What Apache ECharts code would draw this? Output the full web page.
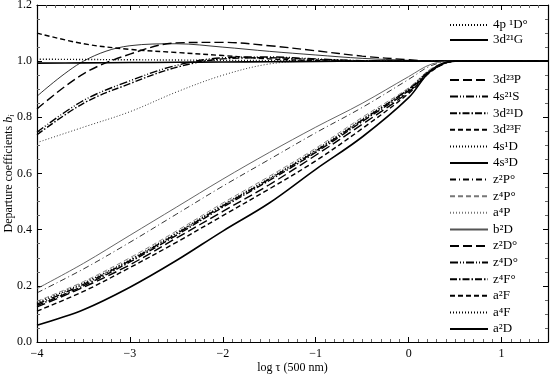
<!DOCTYPE html>
<html>
<head>
<meta charset="utf-8">
<script src="https://cdn.jsdelivr.net/npm/echarts@6/dist/echarts.min.js"></script>
<style>
  html, body { margin: 0; padding: 0; background: #fff; }
  #chart { width: 550px; height: 378px; }
</style>
</head>
<body>
<div id="chart"></div>
<script>
// log tau (500 nm) sample points
const logTau = [-4, -3.5, -3, -2.5, -2, -1.5, -1, -0.5, 0, 0.25, 0.5, 1, 1.5];

// upper levels
const p4_1Do = [0.71, 0.765, 0.82, 0.89, 0.95, 0.99, 1.0, 1.0, 1.0, 1.0, 1.0, 1.0, 1.0];
const d3_1G = [0.875, 1.0, 1.055, 1.062, 1.05, 1.035, 1.022, 1.01, 1.003, 1.0, 1.0, 1.0, 1.0];
const d3_3P = [0.83, 0.955, 1.025, 1.065, 1.067, 1.055, 1.037, 1.018, 1.005, 1.0, 1.0, 1.0, 1.0];
const s4_1S = [0.747, 0.86, 0.93, 0.985, 1.012, 1.015, 1.008, 1.002, 1.0, 1.0, 1.0, 1.0, 1.0];
const d3_1D = [0.738, 0.85, 0.92, 0.978, 1.008, 1.012, 1.006, 1.001, 1.0, 1.0, 1.0, 1.0, 1.0];
const d3_3F = [1.10, 1.062, 1.042, 1.031, 1.02, 1.008, 1.002, 1.0, 1.0, 1.0, 1.0, 1.0, 1.0];
const s4_1D = [1.007, 1.006, 1.005, 1.004, 1.003, 1.002, 1.001, 1.0, 1.0, 1.0, 1.0, 1.0, 1.0];
const s4_3D = [0.993, 0.994, 0.995, 0.996, 0.997, 0.998, 0.999, 1.0, 1.0, 1.0, 1.0, 1.0, 1.0];

// lower levels
const z2Po = [0.175, 0.26, 0.355, 0.455, 0.555, 0.65, 0.745, 0.835, 0.935, 0.985, 1.0, 1.0, 1.0];
const z4Po = [0.145, 0.215, 0.30, 0.395, 0.495, 0.59, 0.69, 0.80, 0.905, 0.975, 1.0, 1.0, 1.0];
const a4P = [0.14, 0.21, 0.295, 0.39, 0.49, 0.585, 0.685, 0.795, 0.90, 0.972, 1.0, 1.0, 1.0];
const b2D = [0.19, 0.28, 0.38, 0.48, 0.58, 0.675, 0.765, 0.85, 0.945, 0.99, 1.0, 1.0, 1.0];
const z2Do = [0.125, 0.195, 0.275, 0.37, 0.465, 0.56, 0.665, 0.775, 0.89, 0.967, 1.0, 1.0, 1.0];
const z4Do = [0.135, 0.205, 0.29, 0.385, 0.485, 0.58, 0.68, 0.79, 0.90, 0.97, 1.0, 1.0, 1.0];
const z4Fo = [0.13, 0.20, 0.285, 0.38, 0.48, 0.575, 0.675, 0.785, 0.895, 0.968, 1.0, 1.0, 1.0];
const a2F = [0.11, 0.18, 0.265, 0.355, 0.45, 0.545, 0.645, 0.76, 0.885, 0.965, 1.0, 1.0, 1.0];
const a4F = [0.14, 0.21, 0.292, 0.388, 0.487, 0.582, 0.683, 0.792, 0.90, 0.971, 1.0, 1.0, 1.0];
const a2D = [0.06, 0.115, 0.195, 0.29, 0.395, 0.495, 0.615, 0.73, 0.87, 0.97, 1.0, 1.0, 1.0];

const legendTop = ['4p \u00B9D\u00B0', '3d\u00B2\u00B9G'];
const legendMain = ['3d\u00B2\u00B3P', '4s\u00B2\u00B9S', '3d\u00B2\u00B9D', '3d\u00B2\u00B3F', '4s\u00B9D', '4s\u00B3D',
  'z\u00B2P\u00B0', 'z\u2074P\u00B0', 'a\u2074P', 'b\u00B2D', 'z\u00B2D\u00B0', 'z\u2074D\u00B0', 'z\u2074F\u00B0',
  'a\u00B2F', 'a\u2074F', 'a\u00B2D'];

// line styles
const DOT = [1, 2];
const LDASH = [9, 4];
const DDOT = [8, 2, 1, 2, 1, 2];
const DDASH = [7, 2, 1.5, 2];
const DASH = [5, 3];
const THIN_DD = [6, 3, 1, 3];

const curves = [
  { name: legendTop[0], data: p4_1Do, type: DOT, width: 0.8, color: '#000' },
  { name: legendTop[1], data: d3_1G, type: 'solid', width: 0.8, color: '#000' },
  { name: legendMain[0], data: d3_3P, type: LDASH, width: 1.4, color: '#000' },
  { name: legendMain[1], data: s4_1S, type: DDOT, width: 1.4, color: '#000' },
  { name: legendMain[2], data: d3_1D, type: DDASH, width: 1.4, color: '#000' },
  { name: legendMain[3], data: d3_3F, type: DASH, width: 1.4, color: '#000' },
  { name: legendMain[4], data: s4_1D, type: DOT, width: 1.4, color: '#000' },
  { name: legendMain[5], data: s4_3D, type: 'solid', width: 1.6, color: '#000' },
  { name: legendMain[6], data: z2Po, type: THIN_DD, width: 0.8, color: '#000' },
  { name: legendMain[7], data: z4Po, type: DASH, width: 0.9, color: '#777' },
  { name: legendMain[8], data: a4P, type: DOT, width: 0.9, color: '#777' },
  { name: legendMain[9], data: b2D, type: 'solid', width: 0.9, color: '#555' },
  { name: legendMain[10], data: z2Do, type: LDASH, width: 1.4, color: '#000' },
  { name: legendMain[11], data: z4Do, type: DDOT, width: 1.4, color: '#000' },
  { name: legendMain[12], data: z4Fo, type: DDASH, width: 1.4, color: '#000' },
  { name: legendMain[13], data: a2F, type: DASH, width: 1.4, color: '#000' },
  { name: legendMain[14], data: a4F, type: DOT, width: 1.4, color: '#000' },
  { name: legendMain[15], data: a2D, type: 'solid', width: 1.6, color: '#000' }
];

const FONT = 'Liberation Serif';
const minus = v => String(v).replace('-', '\u2212');

const chart = echarts.init(document.getElementById('chart'), null, { renderer: 'canvas' });

const legendText = { fontFamily: FONT, fontSize: 13, color: '#000', lineHeight: 14 };

const option = {
  animation: false,
  backgroundColor: '#fff',
  grid: { left: 37, right: 2, top: 5, bottom: 36, containLabel: false, outerBoundsMode: 'none' },
  legend: [
    {
      data: legendTop, orient: 'vertical', left: 444, top: 13,
      itemWidth: 38, itemHeight: 14, itemGap: 1,
      itemStyle: { opacity: 0 }, textStyle: legendText
    },
    {
      data: legendMain, orient: 'vertical', left: 444, top: 68,
      itemWidth: 38, itemHeight: 14, itemGap: 2.6,
      itemStyle: { opacity: 0 }, textStyle: legendText
    }
  ],
  xAxis: [
    {
      type: 'value', min: -4, max: 1.5, interval: 1,
      name: 'log \u03C4 (500 nm)', nameLocation: 'middle', nameGap: 20, nameMoveOverlap: false,
      nameTextStyle: { fontFamily: FONT, fontSize: 12, color: '#000' },
      axisLine: { onZero: false, lineStyle: { color: '#000', width: 1.2 } },
      axisTick: { inside: true, length: 5, lineStyle: { color: '#000' } },
      minorTick: { show: true, splitNumber: 10, length: 3, lineStyle: { color: '#666' } },
      axisLabel: { fontFamily: FONT, fontSize: 12, color: '#000', margin: 6, showMaxLabel: false, formatter: minus },
      splitLine: { show: false }
    },
    {
      type: 'value', min: -4, max: 1.5, interval: 1, position: 'top',
      axisLine: { onZero: false, lineStyle: { color: '#000', width: 1.2 } },
      axisTick: { inside: true, length: 5, lineStyle: { color: '#000' } },
      minorTick: { show: true, splitNumber: 10, length: 3, lineStyle: { color: '#666' } },
      axisLabel: { show: false },
      splitLine: { show: false }
    }
  ],
  yAxis: [
    {
      type: 'value', min: 0, max: 1.2, interval: 0.2, position: 'left',
      name: 'Departure coefficients {i|b}{s|i}', nameLocation: 'middle', nameGap: 21, nameMoveOverlap: false,
      nameTextStyle: {
        fontFamily: FONT, fontSize: 12, color: '#000',
        rich: {
          i: { fontFamily: FONT, fontSize: 12, fontStyle: 'italic', color: '#000' },
          s: { fontFamily: FONT, fontSize: 8, fontStyle: 'italic', color: '#000', padding: [6, 0, 0, 0] }
        }
      },
      axisLine: { onZero: false, lineStyle: { color: '#000', width: 1.2 } },
      axisTick: { inside: true, length: 5, lineStyle: { color: '#000' } },
      minorTick: { show: true, splitNumber: 4, length: 3, lineStyle: { color: '#666' } },
      axisLabel: { fontFamily: FONT, fontSize: 12, color: '#000', margin: 5, formatter: v => v.toFixed(1) },
      splitLine: { show: false }
    },
    {
      type: 'value', min: 0, max: 1.2, interval: 0.2, position: 'right',
      axisLine: { show: true, onZero: false, lineStyle: { color: '#000', width: 1.2 } },
      axisTick: { show: true, inside: true, length: 5, lineStyle: { color: '#000' } },
      minorTick: { show: true, splitNumber: 4, length: 3, lineStyle: { color: '#666' } },
      axisLabel: { show: false },
      splitLine: { show: false }
    }
  ],
  series: curves.map(c => ({
    name: c.name,
    type: 'line',
    xAxisIndex: 0,
    yAxisIndex: 0,
    smooth: 0.35,
    symbol: 'none',
    data: logTau.map((x, i) => [x, c.data[i]]),
    lineStyle: { color: c.color, width: c.width, type: c.type },
    itemStyle: { color: c.color }
  }))
};

chart.setOption(option);
</script>
</body>
</html>
